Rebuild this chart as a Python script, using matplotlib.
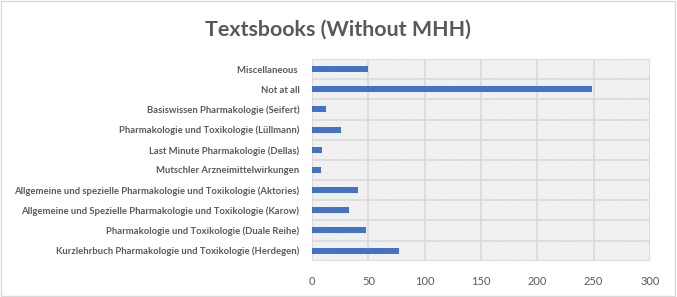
import numpy as np
import matplotlib.pyplot as plt
from matplotlib.patches import Rectangle

plt.rcParams['font.family'] = ['Lato', 'DejaVu Sans']
plt.rcParams['hatch.linewidth'] = 0.5

# categories listed bottom to top
books = ['Kurzlehrbuch Pharmakologie und Toxikologie (Herdegen)',
         'Pharmakologie und Toxikologie (Duale Reihe)',
         'Allgemeine und Spezielle Pharmakologie und Toxikologie (Karow)',
         'Allgemeine und spezielle Pharmakologie und Toxikologie (Aktories)',
         'Mutschler Arzneimittelwirkungen',
         'Last Minute Pharmakologie (Dellas)',
         'Pharmakologie und Toxikologie (Lüllmann)',
         'Basiswissen Pharmakologie (Seifert)',
         'Not at all',
         'Miscellaneous ']
counts = [77, 48, 33, 41, 8, 9, 26, 12, 249, 50]
xticks = [0, 50, 100, 150, 200, 250, 300]

grey = '#595959'
gridc = '#d9d9d9'

fig = plt.figure(figsize=(6.77, 2.97), dpi=100)
ax = fig.add_axes([0.4609, 0.1222, 0.4991, 0.6791])

# hatched plot area
ax.add_patch(Rectangle((0, 0), 1, 1, transform=ax.transAxes, facecolor='white',
                       edgecolor='#dadada', linewidth=0, hatch='\\' * 13, zorder=0))

y = np.arange(len(books))
ax.barh(y, counts, height=0.3, color='#4472c4', zorder=3)

ax.set_xlim(0, 300)
ax.set_ylim(-0.5, len(books) - 0.5)
ax.set_xticks(xticks)
ax.set_xticklabels([str(t) for t in xticks], fontsize=8, color=grey)
ax.set_yticks(y)
ax.set_yticklabels(books, fontsize=6.8, fontweight='bold', color=grey)
ax.tick_params(length=0)
ax.tick_params(axis='y', pad=9)
ax.tick_params(axis='x', pad=11)

for v in xticks:
    ax.axvline(v, color=gridc, linewidth=1.2, zorder=1)
for b in np.arange(-0.5, len(books), 1.0):
    ax.axhline(b, color=gridc, linewidth=1.2, zorder=1)
for s in ax.spines.values():
    s.set_visible(False)

fig.text(0.499, 0.90, 'Textsbooks (Without MHH)', ha='center', va='center',
         fontsize=15.4, fontweight='bold', color=grey)

fig.add_artist(Rectangle((0.002, 0.003), 0.995, 0.993, transform=fig.transFigure,
                         facecolor='none', edgecolor=gridc, linewidth=1))

fig.savefig('out.png', dpi=100)
